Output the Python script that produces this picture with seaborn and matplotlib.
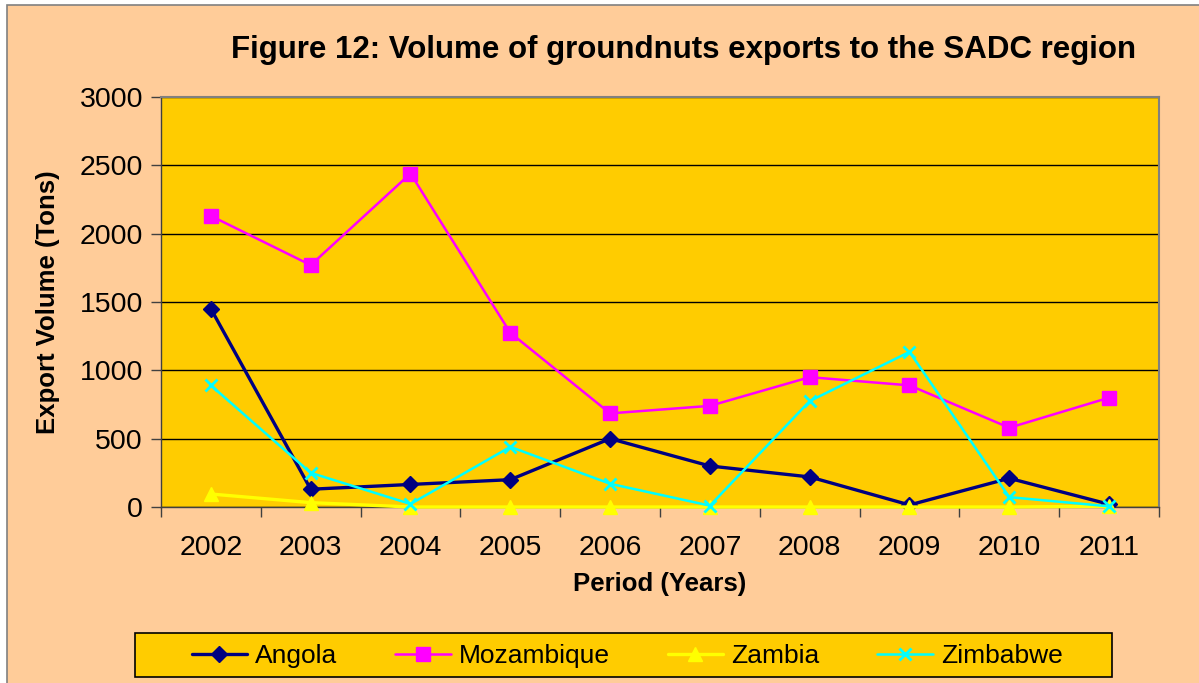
import pandas as pd
import seaborn as sns
import matplotlib.pyplot as plt
from matplotlib.patches import Rectangle

years = ['2002', '2003', '2004', '2005', '2006', '2007', '2008', '2009', '2010', '2011']
angola = [1450, 130, 165, 200, 500, 300, 220, 15, 210, 20]
mozambique = [2130, 1770, 2440, 1275, 685, 740, 950, 890, 580, 800]
zambia = [95, 32, 0, 0, 0, 0, 0, 0, 0, 5]
zimbabwe = [890, 250, 22, 440, 170, 10, 775, 1135, 72, 5]

series = {'Angola': angola, 'Mozambique': mozambique,
          'Zambia': zambia, 'Zimbabwe': zimbabwe}
colors = {'Angola': '#000080', 'Mozambique': '#FF00FF',
          'Zambia': '#FFFF00', 'Zimbabwe': '#00FFFF'}
markers = {'Angola': 'D', 'Mozambique': 's', 'Zambia': '^', 'Zimbabwe': 'x'}
msizes = {'Angola': 8, 'Mozambique': 10, 'Zambia': 10, 'Zimbabwe': 9}
lwidths = {'Angola': 2.4, 'Mozambique': 1.8, 'Zambia': 2.4, 'Zimbabwe': 1.8}

# long format for seaborn
df = pd.DataFrame([
    {'Year': y, 'Country': c, 'Volume': v}
    for c, vals in series.items() for y, v in zip(years, vals)
])

sns.set_theme(style="white")
plt.rcParams['font.family'] = ['Liberation Sans', 'DejaVu Sans']
plt.rcParams['text.color'] = 'black'
plt.rcParams['axes.labelcolor'] = 'black'
plt.rcParams['xtick.color'] = 'black'
plt.rcParams['ytick.color'] = 'black'

fig = plt.figure(figsize=(11.99, 6.83), dpi=100, facecolor='white')
fig.patches.append(Rectangle((7 / 1199, -0.01), 1.0, 1 - 5 / 683 + 0.01,
                             transform=fig.transFigure, facecolor='#FFCC99',
                             edgecolor='#808080', linewidth=1.2, zorder=-10))
# legend box
fig.patches.append(Rectangle((135 / 1199, 1 - 677 / 683), (1112 - 135) / 1199, 44 / 683,
                             transform=fig.transFigure, facecolor='#FFCC00',
                             edgecolor='black', linewidth=1.2, zorder=-5))
ax = fig.add_axes([161 / 1199, 1 - 507 / 683, (1159 - 161) / 1199, (507 - 97) / 683])
ax.set_facecolor('#FFCC00')

for c in series:
    sns.lineplot(data=df[df['Country'] == c], x='Year', y='Volume', ax=ax,
                 color=colors[c], marker=markers[c], markersize=msizes[c],
                 markeredgecolor=colors[c], markeredgewidth=2 if c == 'Zimbabwe' else 1,
                 linewidth=lwidths[c], label=c, legend=False, zorder=3, clip_on=False)

ax.set_xlim(-0.5, 9.5)
ax.set_ylim(0, 3000)
ax.set_yticks(range(0, 3001, 500))
ax.yaxis.grid(True, color='black', linewidth=1)
ax.set_axisbelow(True)
ax.set_xticks(range(len(years)))
ax.set_xticklabels(years)
ax.set_xticks([i - 0.5 for i in range(len(years) + 1)], minor=True)
ax.tick_params(axis='x', which='major', length=0, labelsize=20.5, pad=20)
ax.tick_params(axis='x', which='minor', length=7, width=1, color='#404040', direction='out', bottom=True)
ax.tick_params(axis='y', length=7, width=1, color='#404040', direction='out', left=True, labelsize=20.5, pad=6)

for side in ['top', 'right']:
    ax.spines[side].set_color('#808080')
    ax.spines[side].set_linewidth(1.5)
for side in ['left', 'bottom']:
    ax.spines[side].set_color('#404040')
    ax.spines[side].set_linewidth(1)

ax.set_xlabel('Period (Years)', fontsize=18.5, fontweight='bold', labelpad=8)
ax.set_ylabel('Export Volume (Tons)', fontsize=18.5, fontweight='bold', labelpad=14)
fig.text(684 / 1199, 1 - 50 / 683, 'Figure 12: Volume of groundnuts exports to the SADC region',
         ha='center', va='center', fontsize=22.5, fontweight='bold')

handles, labels = ax.get_legend_handles_labels()
leg = fig.legend(handles, labels, loc='center', ncol=4,
                 bbox_to_anchor=(627 / 1199, 1 - 656 / 683),
                 fontsize=19, frameon=False, handlelength=2.1,
                 handletextpad=0.3, columnspacing=2.2)

fig.savefig('out.png', dpi=100, facecolor=fig.get_facecolor())
